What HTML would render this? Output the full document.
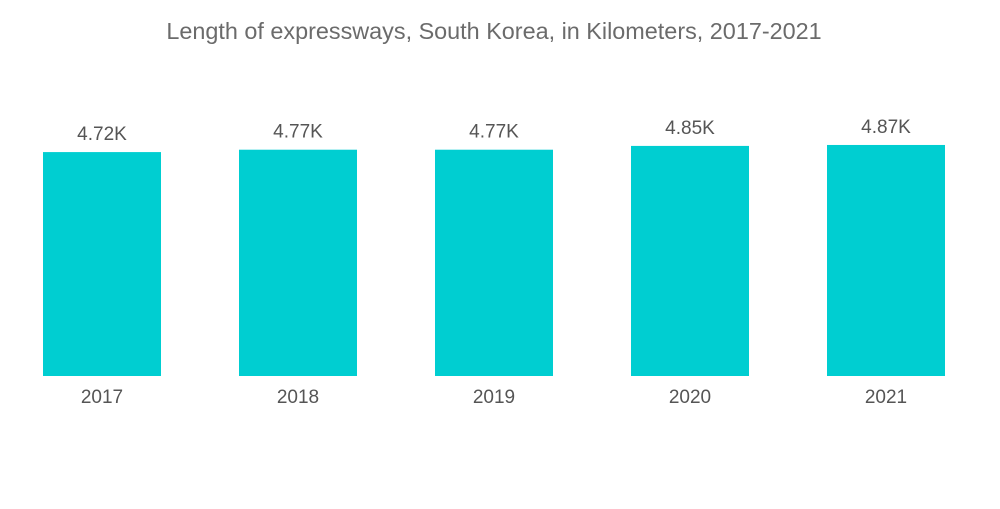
<!DOCTYPE html>
<html><head><meta charset="utf-8"><style>
body{margin:0;background:#fff;width:1000px;height:504px;overflow:hidden;font-family:"Liberation Sans",sans-serif}
</style></head><body>
<svg width="1000" height="504">
<text x="494" y="39" text-anchor="middle" font-size="23.4" fill="#6b6b6b">Length of expressways, South Korea, in Kilometers, 2017-2021</text>
<g id="bars"></g>
</svg>
<script>
const categories=["2017","2018","2019","2020","2021"];
const values=[4720,4770,4770,4850,4870];
const labels=["4.72K","4.77K","4.77K","4.85K","4.87K"];
const base=376,scale=0.04744,x0=43,step=196,bw=118;
function y(v){return base-v*scale;}
function x(i){return x0+i*step;}
const g=document.getElementById('bars');const ns="http://www.w3.org/2000/svg";
categories.forEach((c,i)=>{
 const r=document.createElementNS(ns,'rect');
 r.setAttribute('x',x(i));r.setAttribute('y',y(values[i]));r.setAttribute('width',bw);r.setAttribute('height',base-y(values[i]));r.setAttribute('fill','#00ced1');
 
 
 g.appendChild(r);
 const t=document.createElementNS(ns,'text');
 t.setAttribute('x',x(i)+bw/2);t.setAttribute('y',y(values[i])-12);t.setAttribute('text-anchor','middle');t.setAttribute('font-size','19');t.setAttribute('fill','#555');t.textContent=labels[i];
 
 
 g.appendChild(t);
 const a=document.createElementNS(ns,'text');
 a.setAttribute('x',x(i)+bw/2);a.setAttribute('y',403);a.setAttribute('text-anchor','middle');a.setAttribute('font-size','19');a.setAttribute('fill','#555');a.textContent=c;
 
 
 g.appendChild(a);
});
</script>
</body></html>
